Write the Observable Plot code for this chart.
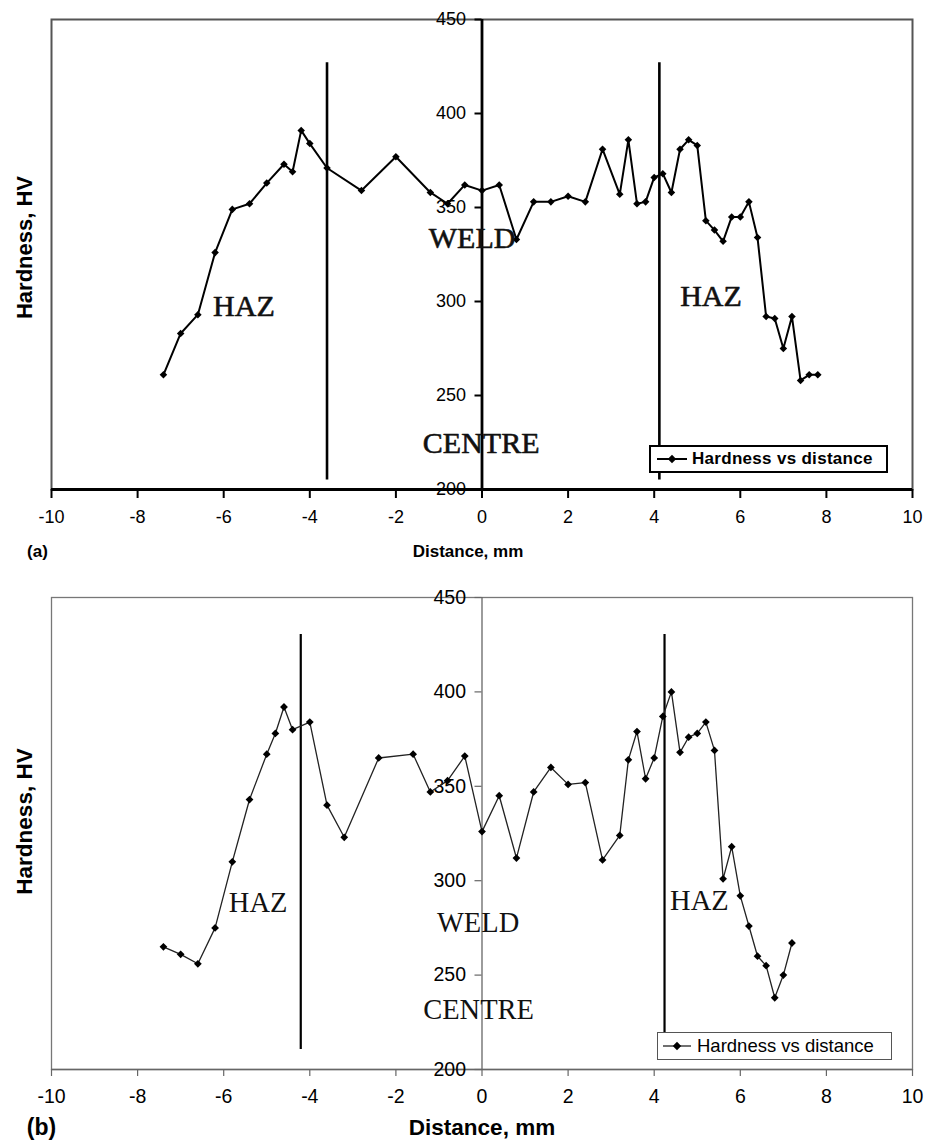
<!DOCTYPE html>
<html>
<head>
<meta charset="utf-8">
<script src="https://cdn.jsdelivr.net/npm/d3@7"></script>
<script src="https://cdn.jsdelivr.net/npm/@observablehq/plot@0.6"></script>
<style>
  body { margin: 0; background: #fff; }
  #wrap { position: relative; width: 925px; height: 1141px; overflow: hidden; }
  #wrap svg { display: block; }
  .legend { position: absolute; display: flex; align-items: center; background: #fff; box-sizing: border-box; white-space: nowrap; font-family: 'Liberation Sans', Arial, sans-serif; color: #000; }
  .legend svg { display: block; flex: none; }
</style>
</head>
<body>
<div id="wrap"></div>
<script>
// ---- data ----
const xTicks = [-10, -8, -6, -4, -2, 0, 2, 4, 6, 8, 10];
const yTicks = [200, 250, 300, 350, 400, 450];

// Panel (a)
const distanceA = [-7.4,-7.0,-6.6,-6.2,-5.8,-5.4,-5.0,-4.6,-4.4,-4.2,-4.0,-3.6,-2.8,-2.0,-1.2,-0.8,-0.4,0.0,0.4,0.8,1.2,1.6,2.0,2.4,2.8,3.2,3.4,3.6,3.8,4.0,4.2,4.4,4.6,4.8,5.0,5.2,5.4,5.6,5.8,6.0,6.2,6.4,6.6,6.8,7.0,7.2,7.4,7.6,7.8];
const hardnessA = [261,283,293,326,349,352,363,373,369,391,384,371,359,377,358,352,362,359,362,333,353,353,356,353,381,357,386,352,353,366,368,358,381,386,383,343,338,332,345,345,353,334,292,291,275,292,258,261,261];
const hazXA = [-3.6, 4.12];
const hazLowA = [205, 205];
const hazHighA = [427, 427];
const zoneTextA = ["HAZ", "HAZ", "WELD", "CENTRE"];
const zoneXA = [-5.53, 5.32, -0.23, -0.02];
const zoneYA = [297.5, 302.8, 333.7, 224.6];

// Panel (b)
const distanceB = [-7.4,-7.0,-6.6,-6.2,-5.8,-5.4,-5.0,-4.8,-4.6,-4.4,-4.0,-3.6,-3.2,-2.4,-1.6,-1.2,-0.8,-0.4,0.0,0.4,0.8,1.2,1.6,2.0,2.4,2.8,3.2,3.4,3.6,3.8,4.0,4.2,4.4,4.6,4.8,5.0,5.2,5.4,5.6,5.8,6.0,6.2,6.4,6.6,6.8,7.0,7.2];
const hardnessB = [265,261,256,275,310,343,367,378,392,380,384,340,323,365,367,347,353,366,326,345,312,347,360,351,352,311,324,364,379,354,365,387,400,368,376,378,384,369,301,318,292,276,260,255,238,250,267];
const hazXB = [-4.21, 4.24];
const hazLowB = [210.6, 211.2];
const hazHighB = [430.4, 430.4];
const zoneTextB = ["HAZ", "HAZ", "WELD", "CENTRE"];
const zoneXB = [-5.2, 5.05, -0.09, -0.08];
const zoneYB = [288, 289.5, 277.4, 231.4];

const legendText = "Hardness vs distance";
const xLabel = "Distance, mm";
const yLabel = "Hardness, HV";

const SANS = "'Liberation Sans', Arial, Helvetica, sans-serif";
const SERIF = "'Liberation Serif', 'Times New Roman', Times, serif";

function panel(o) {
  const rows = o.dist.map((d, i) => ({d, h: o.hard[i]}));
  const tickLen = 7 * 20 / 861; // ~7px in x units
  return Plot.plot({
    width: 925,
    height: o.height,
    marginLeft: 51,
    marginRight: 13,
    marginTop: o.mt,
    marginBottom: o.mb,
    x: {domain: [-10, 10], axis: null},
    y: {domain: [200, 450], axis: null},
    style: {fontFamily: SANS, background: "white", overflow: "visible", color: "black"},
    marks: [
      Plot.frame({stroke: o.frameColor, strokeWidth: o.frameWidth}),
      // HAZ boundary lines
      Plot.ruleX(o.hazX, {x: d => d, y1: (d, i) => o.hazLow[i], y2: (d, i) => o.hazHigh[i], stroke: "black", strokeWidth: o.hazWidth}),
      // axes lines
      Plot.ruleY([200], {stroke: o.axisColor, strokeWidth: o.axisWidth}),
      Plot.ruleX([0], {stroke: o.axisColor, strokeWidth: o.axisWidth}),
      // x axis ticks and labels
      Plot.axisX(xTicks, {tickSize: o.xTickSize, tickPadding: o.xTickPad, fontSize: o.tickFont, tickFormat: d => String(d), stroke: o.axisColor, strokeWidth: o.tickWidth, fill: "black", label: null}),
      // y axis (drawn at x = 0)
      Plot.ruleY(yTicks, {x1: () => 0, x2: () => -tickLen, stroke: o.axisColor, strokeWidth: o.tickWidth}),
      Plot.text(yTicks, {x: () => 0, y: d => d, text: d => String(d), textAnchor: "end", dx: -16, fontSize: o.tickFont, fill: "black"}),
      // data
      Plot.line(rows, {x: "d", y: "h", stroke: o.lineColor, strokeWidth: o.lineWidth}),
      Plot.dot(rows, {x: "d", y: "h", symbol: "diamond2", r: o.dotR, fill: "black", stroke: "none"}),
      // zone annotations
      Plot.text(o.zoneText, {x: (d, i) => o.zoneX[i], y: (d, i) => o.zoneY[i], text: d => d, fontFamily: SERIF, fontSize: o.zoneFont, fill: o.zoneColor, stroke: o.zoneStroke, strokeWidth: o.zoneStrokeW}),
      // axis titles
      Plot.text([xLabel], {frameAnchor: "bottom", text: d => d, textAnchor: "middle", lineAnchor: "middle", dx: o.xlDx, dy: o.xlDy, fontWeight: "bold", fontSize: o.xlFont, fill: "black"}),
      Plot.text([o.tag], {frameAnchor: "bottom-left", text: d => d, textAnchor: "middle", lineAnchor: "middle", dx: o.tagDx, dy: o.xlDy, fontWeight: "bold", fontSize: o.tagFont, fill: "black"}),
      Plot.text([yLabel], {frameAnchor: "left", text: d => d, textAnchor: "middle", lineAnchor: "middle", rotate: -90, dx: -27, dy: o.ylDy, fontWeight: "bold", fontSize: o.ylFont, fill: "black"})
    ]
  });
}

const wrap = document.getElementById("wrap");

wrap.append(panel({
  dist: distanceA, hard: hardnessA,
  hazX: hazXA, hazLow: hazLowA, hazHigh: hazHighA,
  zoneText: zoneTextA, zoneX: zoneXA, zoneY: zoneYA,
  height: 570, mt: 19, mb: 81,
  frameColor: "#555", frameWidth: 2,
  axisColor: "black", axisWidth: 2.8, tickWidth: 2,
  xTickSize: 9, xTickPad: 12, tickFont: 18,
  hazWidth: 2.6, lineColor: "black", lineWidth: 2, dotR: 3.4,
  zoneFont: 30, zoneColor: "#111", zoneStroke: "#111", zoneStrokeW: 0.6,
  tag: "(a)", tagDx: -14, tagFont: 17,
  xlDx: -14, xlDy: 62, xlFont: 17,
  ylDy: -7, ylFont: 22
}));

wrap.append(panel({
  dist: distanceB, hard: hardnessB,
  hazX: hazXB, hazLow: hazLowB, hazHigh: hazHighB,
  zoneText: zoneTextB, zoneX: zoneXB, zoneY: zoneYB,
  height: 571, mt: 27, mb: 72,
  frameColor: "#777", frameWidth: 1.3,
  axisColor: "#666", axisWidth: 1.3, tickWidth: 1.2,
  xTickSize: 7, xTickPad: 13, tickFont: 19.5,
  hazWidth: 2.2, lineColor: "#222", lineWidth: 1.3, dotR: 3.5,
  zoneFont: 28.5, zoneColor: "#111", zoneStroke: "none", zoneStrokeW: 0,
  tag: "(b)", tagDx: -10, tagFont: 23,
  xlDx: 0, xlDy: 58, xlFont: 22.5,
  ylDy: -12, ylFont: 22.5
}));

// legends
function legend(o) {
  const div = document.createElement("div");
  div.className = "legend";
  Object.assign(div.style, {left: o.left + "px", top: o.top + "px", width: o.w + "px", height: o.h + "px", border: o.border});
  const ns = "http://www.w3.org/2000/svg";
  const s = document.createElementNS(ns, "svg");
  s.setAttribute("width", o.sw); s.setAttribute("height", 20);
  s.style.marginLeft = o.pad + "px";
  const ln = document.createElementNS(ns, "line");
  ln.setAttribute("x1", 0); ln.setAttribute("x2", o.sw); ln.setAttribute("y1", 10); ln.setAttribute("y2", 10);
  ln.setAttribute("stroke", o.lineColor); ln.setAttribute("stroke-width", o.lw);
  const dm = document.createElementNS(ns, "path");
  const c = o.sw / 2;
  dm.setAttribute("d", `M${c},${10 - 4.2}L${c + 4.2},10L${c},${10 + 4.2}L${c - 4.2},10Z`);
  dm.setAttribute("fill", "black");
  s.append(ln, dm);
  const t = document.createElement("span");
  t.textContent = legendText;
  Object.assign(t.style, {fontSize: o.fs + "px", fontWeight: o.fw, marginLeft: o.gap + "px", letterSpacing: o.ls + "px"});
  div.append(s, t);
  wrap.append(div);
}
legend({left: 649, top: 445, w: 239, h: 28, border: "2px solid #000", sw: 30, pad: 6, gap: 5, fs: 17, fw: "bold", ls: 0.3, lineColor: "black", lw: 2});
legend({left: 657, top: 1032, w: 235, h: 28, border: "1px solid #555", sw: 28, pad: 5, gap: 6, fs: 18.5, fw: "normal", ls: 0, lineColor: "#222", lw: 1.3});
</script>
</body>
</html>
